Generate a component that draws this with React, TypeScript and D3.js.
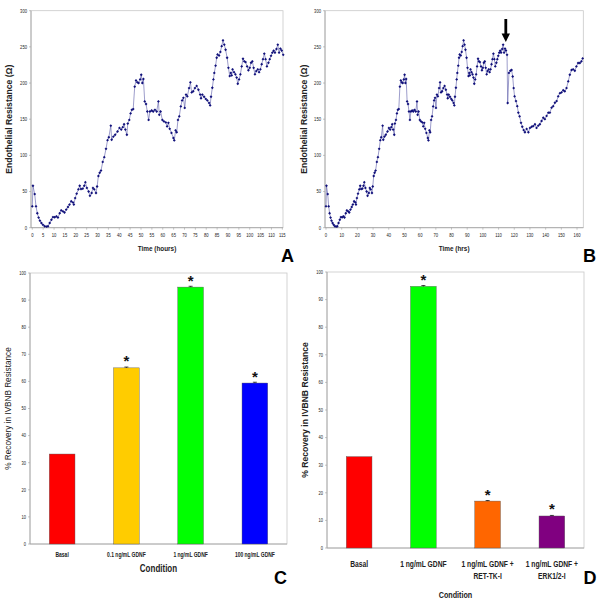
import React from "react";
import * as d3 from "d3";

// ---------- DATA ----------
const timeHours = [
  0, 0.3, 1.1, 1.7, 2.3, 2.9, 3.5, 4.2, 4.9, 5.7, 6.5, 7.2, 8, 8.8, 9.5, 10.3, 11.1, 11.8, 12.6, 13.3,
  14.1, 14.8, 15.6, 16.4, 17.1, 17.9, 18.7, 19.1, 19.7, 20.4, 21.2, 21.8, 22.4, 23.2, 23.9, 24.4, 25.1, 25.9, 26.5, 27.3,
  27.9, 28.5, 29.3, 29.8, 30.4, 31, 31.6, 32.4, 33.1, 33.9, 34.6, 35.2, 36.1, 36.5, 37.3, 38.1, 39.2, 40.1, 40.9, 41.6,
  42.2, 42.8, 43.5, 43.9, 44.6, 45.2, 45.8, 46.4, 47.1, 47.7, 48.3, 48.9, 49.6, 50.1, 50.6, 51.1, 51.7, 52.3, 52.9, 53.5,
  54.1, 54.9, 55.6, 56.4, 57.2, 58, 58.4, 59, 59.8, 60.5, 61.4, 62, 62.6, 63.2, 64, 64.9, 65.3, 65.9, 66.4, 67,
  67.6, 68.3, 68.9, 69.5, 70.1, 70.7, 71.3, 72.1, 72.7, 73.3, 74, 74.8, 75.6, 76.4, 77.2, 77.6, 78.2, 79, 79.8, 80.5,
  81.3, 81.8, 82.2, 82.8, 83.3, 83.7, 84.3, 84.8, 85.2, 85.9, 86.5, 87.1, 87.7, 88.3, 88.9, 89.6, 90.2, 90.8, 91.3, 91.7,
  92.1, 92.8, 93.4, 94, 94.5, 95.1, 95.7, 96.3, 96.9, 97.5, 98.1, 98.8, 99.4, 100, 100.6, 101.2, 101.8, 102.4, 103, 103.7,
  104.3, 104.9, 105.5, 106.1, 106.7, 107.3, 107.9, 108.6, 109.2, 109.8, 110.4, 111, 111.6, 112.3, 112.9, 113.5, 114.1, 114.7, 115.4,
  115.8, 116.6, 117.5, 118.3, 119, 119.6, 120.2, 121.1, 121.9, 122.6, 123.4, 124.3, 125.1, 126, 126.8, 127.9, 129, 130, 131.1, 132.1,
  133.2, 134.2, 135.3, 136.3, 137.4, 138.5, 139.5, 140.6, 141.7, 142.7, 143.8, 144.8, 145.9, 147, 148, 149.1, 150.1, 151.2, 152.2, 153.3,
  154.4, 155.4, 156.5, 157.5, 158.6, 159.6, 160.7, 161.8, 162.8, 163.6,
];
const resistance = [
  29.5, 58, 46.5, 29.5, 20, 14, 9.7, 6.5, 4, 2, 1.5, 2, 6.5, 11, 14.7, 14.5, 15.7, 14, 20, 24,
  22.6, 21, 25, 28.6, 32, 36.6, 35, 32, 41, 47, 53, 58, 53.5, 54, 58, 63, 55, 50, 44, 48,
  55, 53, 48, 57, 71.5, 76, 79, 91, 97.5, 109, 121, 125, 141, 121.6, 126, 128.5, 133, 138, 135.6, 139,
  143, 135.6, 128.5, 144, 149, 158, 163, 164, 195, 203.6, 201, 200, 205, 211.5, 200, 205.6, 174.6, 171, 160.6, 149,
  160.6, 162, 160.6, 163, 160.6, 174.6, 156, 160.6, 149, 147, 145.6, 140, 145, 136.7, 131, 124, 120.7, 134.6, 132, 149,
  154, 167.7, 176, 179.5, 165.6, 184, 181.6, 193, 201, 187, 188.6, 193, 196, 190.7, 184, 179, 184, 181, 178, 176,
  172.5, 169, 181, 193.5, 205, 214, 224, 235, 239.6, 238, 243, 251, 259, 253, 246, 235, 221, 209.6, 214, 210.5,
  219, 215, 212, 207.5, 199, 205, 212, 223, 233.6, 230, 229, 223, 217.7, 221, 228, 230, 221, 212, 216.5, 219,
  215, 219, 226, 233, 240.6, 233, 223, 228, 233, 237.6, 242, 244.6, 242, 247, 253, 242, 247.6, 245, 239,
  172.4, 214, 217, 218, 209, 193, 181.6, 175, 168, 159, 154, 145, 139.6, 135, 132, 136.6, 132, 138, 139.6, 140.5,
  143, 138, 141, 143, 147.5, 152, 150, 154.5, 159, 159, 166, 168, 172.7, 175, 181.6, 186, 187, 190, 188.6, 193,
  202.4, 211.5, 218, 219, 217, 223, 227.7, 227.7, 230, 234,
];

const resistanceTicks = [0, 50, 100, 150, 200, 250, 300];
const hourTicksA = d3.range(0, 116, 5);
const hourTicksB = d3.range(0, 161, 10);
const arrowHour = 114.6;

const conditionsC = ["Basal", "0.1 ng/mL GDNF", "1 ng/mL GDNF", "100 ng/mL GDNF"];
const recoveryC = [33.2, 65, 94.8, 59.4];
const errorC = [0, 0.3, 0.3, 0.3];
const starsC = [false, true, true, true];
const colorsC = ["#ff0000", "#ffcc00", "#00ff00", "#0000ff"];

const conditionsD = [["Basal"], ["1 ng/mL GDNF"], ["1 ng/mL GDNF +", "RET-TK-I"], ["1 ng/mL GDNF +", "ERK1/2-I"]];
const recoveryD = [33.1, 94.8, 17, 11.6];
const errorD = [0, 0.3, 0.2, 0.2];
const starsD = [false, true, true, true];
const colorsD = ["#ff0000", "#00ff00", "#ff6600", "#800080"];

const recoveryTicks = d3.range(0, 101, 10);

const SANS = "'Liberation Sans', Arial, Helvetica, sans-serif";

// condensed text (Arial-Narrow look) via horizontal scaling
function NText(props: { x: number; y: number; size: number; anchor?: string; bold?: boolean; sx?: number; children: React.ReactNode }) {
  const sx = props.sx ?? 0.8;
  return (
    <text transform={`translate(${props.x},${props.y}) scale(${sx},1)`} fontSize={props.size}
      textAnchor={props.anchor ?? "middle"} fontWeight={props.bold ? "bold" : "normal"} fontFamily={SANS} fill="#222">
      {props.children}
    </text>
  );
}

type LineProps = {
  left: number; right: number; top: number; bottom: number;
  xMin: number; xMax: number; tMax: number; ticks: number[];
  xLabel: string; letter: string; letterX: number; yLabelX: number; arrow?: boolean;
};

function LinePanel(p: LineProps) {
  const x = d3.scaleLinear().domain([p.xMin, p.xMax]).range([p.left, p.right]);
  const y = d3.scaleLinear().domain([0, 300]).range([p.bottom, p.top]);
  const pts = timeHours.map((t, i) => [t, resistance[i]] as [number, number]).filter((d) => d[0] <= p.tMax);
  const line = d3.line<[number, number]>().x((d) => x(d[0])).y((d) => y(d[1]));
  const midY = (p.top + p.bottom) / 2;
  return (
    <g>
      <rect x={p.left} y={p.top} width={p.right - p.left} height={p.bottom - p.top} fill="#fff" stroke="#c8c8c8" strokeWidth={0.8} />
      <line x1={p.left} x2={p.left} y1={p.top} y2={p.bottom} stroke="#a0a0a0" strokeWidth={0.8} />
      <line x1={p.left} x2={p.right} y1={p.bottom} y2={p.bottom} stroke="#a0a0a0" strokeWidth={0.8} />
      {resistanceTicks.map((v) => (
        <g key={"y" + v}>
          <line x1={p.left - 2} x2={p.left} y1={y(v)} y2={y(v)} stroke="#a0a0a0" strokeWidth={0.6} />
          <NText x={p.left - 4} y={y(v) + 1.8} size={5.2} anchor="end">{v}</NText>
        </g>
      ))}
      {p.ticks.map((v) => (
        <g key={"x" + v}>
          <line x1={x(v)} x2={x(v)} y1={p.bottom} y2={p.bottom + 2} stroke="#a0a0a0" strokeWidth={0.6} />
          <NText x={x(v)} y={p.bottom + 9.5} size={5.2}>{v}</NText>
        </g>
      ))}
      <path d={line(pts) || ""} fill="none" stroke="#5b5ba8" strokeWidth={0.6} />
      {pts.map((d, i) => (
        <rect key={i} x={x(d[0]) - 1} y={y(d[1]) - 1} width={2} height={2} fill="#10107a"
          transform={`rotate(45 ${x(d[0])} ${y(d[1])})`} />
      ))}
      {p.arrow && (
        <g>
          <line x1={x(arrowHour)} x2={x(arrowHour)} y1={19} y2={35} stroke="#000" strokeWidth={2.8} />
          <path d={`M${x(arrowHour) - 4.2},${33.5} L${x(arrowHour) + 4.2},${33.5} L${x(arrowHour)},${42} Z`} fill="#000" />
        </g>
      )}
      <text transform={`translate(${p.yLabelX},${midY}) rotate(-90)`} textAnchor="middle" fontSize={8.6} fontWeight="bold" fontFamily={SANS} fill="#222">
        Endothelial Resistance (Ω)
      </text>
      <NText x={(p.left + p.right) / 2} y={250.5} size={8} bold>{p.xLabel}</NText>
      <text x={p.letterX} y={261.5} textAnchor="middle" fontSize={18} fontWeight="bold" fontFamily={SANS} fill="#000">{p.letter}</text>
    </g>
  );
}

type BarProps = {
  left: number; right: number; top: number; bottom: number;
  labels: string[][]; values: number[]; errors: number[]; stars: boolean[]; colors: string[];
  yLabelX: number; yLabelBold: boolean; yLabelSize: number; catSize: number; catY: number;
  condY: number; condSize: number; letter: string; letterX: number;
};

function BarPanel(p: BarProps) {
  const keys = p.labels.map((l) => l.join(" "));
  const x = d3.scaleBand<string>().domain(keys).range([p.left, p.right]).paddingInner(0.6).paddingOuter(0.3);
  const y = d3.scaleLinear().domain([0, 100]).range([p.bottom, p.top]);
  const midY = (p.top + p.bottom) / 2;
  return (
    <g>
      <rect x={p.left} y={p.top} width={p.right - p.left} height={p.bottom - p.top} fill="#fff" stroke="#c8c8c8" strokeWidth={0.8} />
      <line x1={p.left} x2={p.left} y1={p.top} y2={p.bottom} stroke="#a0a0a0" strokeWidth={0.8} />
      <line x1={p.left} x2={p.right} y1={p.bottom} y2={p.bottom} stroke="#a0a0a0" strokeWidth={0.8} />
      {recoveryTicks.map((v) => (
        <g key={v}>
          <line x1={p.left - 2} x2={p.left} y1={y(v)} y2={y(v)} stroke="#a0a0a0" strokeWidth={0.6} />
          <NText x={p.left - 4} y={y(v) + 1.8} size={5} anchor="end">{v}</NText>
        </g>
      ))}
      {keys.map((k, i) => {
        const bx = x(k) as number;
        const bw = x.bandwidth();
        const cx = bx + bw / 2;
        const top = y(p.values[i]);
        return (
          <g key={k}>
            <rect x={bx} y={top} width={bw} height={p.bottom - top} fill={p.colors[i]} stroke="#555" strokeWidth={0.4} />
            {p.errors[i] > 0 && (
              <g stroke="#000" strokeWidth={0.7}>
                <line x1={cx} x2={cx} y1={top} y2={y(p.values[i] + p.errors[i])} />
                <line x1={cx - 2} x2={cx + 2} y1={y(p.values[i] + p.errors[i])} y2={y(p.values[i] + p.errors[i])} />
              </g>
            )}
            {p.stars[i] && (
              <text x={cx} y={top - 1.5} textAnchor="middle" fontSize={15} fontWeight="bold" fontFamily={SANS} fill="#111">*</text>
            )}
            {p.labels[i].map((line, j) => (
              <NText key={j} x={cx} y={p.catY + j * 12} size={p.catSize} bold sx={0.78}>{line}</NText>
            ))}
          </g>
        );
      })}
      <text transform={`translate(${p.yLabelX},${midY}) rotate(-90)`} textAnchor="middle" fontSize={p.yLabelSize}
        fontWeight={p.yLabelBold ? "bold" : "normal"} fontFamily={SANS} fill="#222">
        % Recovery in IVBNB Resistance
      </text>
      <NText x={(p.left + p.right) / 2} y={p.condY} size={p.condSize} bold>Condition</NText>
      <text x={p.letterX} y={583.5} textAnchor="middle" fontSize={18} fontWeight="bold" fontFamily={SANS} fill="#000">{p.letter}</text>
    </g>
  );
}

export default function App() {
  return (
    <svg width={602} height={607} viewBox="0 0 602 607" style={{ position: "absolute", left: 0, top: 0, background: "#fff" }}>
      <rect width={602} height={607} fill="#fff" />
      <LinePanel left={31} right={283} top={10.7} bottom={227.7} xMin={-0.6} xMax={115.3} tMax={115.5}
        ticks={hourTicksA} xLabel="Time (hours)" letter="A" letterX={287.5} yLabelX={12} />
      <LinePanel left={325} right={583.3} top={10.7} bottom={227.7} xMin={-0.64} xMax={164} tMax={170}
        ticks={hourTicksB} xLabel="Time (hrs)" letter="B" letterX={589.5} yLabelX={307} arrow />
      <BarPanel left={30} right={287} top={273} bottom={544} labels={conditionsC.map((c) => [c])} values={recoveryC}
        errors={errorC} stars={starsC} colors={colorsC} yLabelX={11} yLabelBold={false} yLabelSize={8.2}
        catSize={6.4} catY={557} condY={572} condSize={10} letter="C" letterX={280.5} />
      <BarPanel left={327} right={584} top={272} bottom={548} labels={conditionsD} values={recoveryD}
        errors={errorD} stars={starsD} colors={colorsD} yLabelX={308} yLabelBold={true} yLabelSize={8.6}
        catSize={8.6} catY={567} condY={598} condSize={9} letter="D" letterX={590} />
    </svg>
  );
}
